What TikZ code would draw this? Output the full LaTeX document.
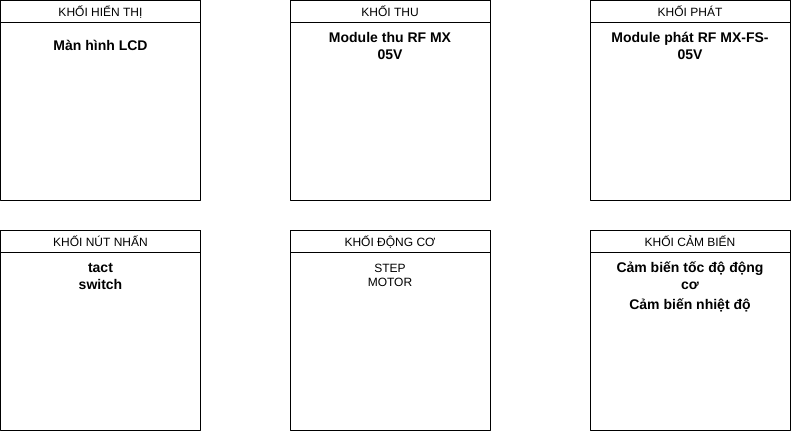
\documentclass[tikz,border=0pt]{standalone}
\usepackage{fontspec}
\setmainfont{Liberation Sans}
\begin{document}
\begin{tikzpicture}[x=1pt, y=-1pt, line width=0.9pt, line join=round,
		blockbox/.style={draw, rectangle, anchor=north west, minimum width=200pt, minimum height=200pt, inner sep=0pt, outer sep=0pt},
		blockhead/.style={draw, rectangle, anchor=north, minimum width=200pt, minimum height=22pt, inner sep=0pt, outer sep=0pt, text height=11pt, text depth=0.5pt, font=\fontsize{12}{13}\selectfont},
		blocktext/.style={align=center, inner sep=0pt, font=\bfseries\fontsize{14}{17}\selectfont},
		plaintext/.style={align=center, inner sep=0pt, font=\fontsize{12}{14.5}\selectfont}]
	\useasboundingbox (0,0) rectangle (791,431);
	% hang tren
	\node[blockbox] (hienthi) at (0.5,0.5) {};
	\node[blockhead] (hienthiHead) at (hienthi.north) {KHỐI HIỂN THỊ};
	\node[blocktext] (hienthiText) at (100.5,45) {Màn hình LCD};
	\node[blockbox] (thu) at (290,0.5) {};
	\node[blockhead] (thuHead) at (thu.north) {KHỐI THU};
	\node[blocktext] (thuText) at (390,45.5) {Module thu RF MX\\05V};
	\node[blockbox] (phat) at (590,0.5) {};
	\node[blockhead] (phatHead) at (phat.north) {KHỐI PHÁT};
	\node[blocktext] (phatText) at (690,45.5) {Module phát RF MX-FS-\\05V};
	% hang duoi
	\node[blockbox] (nutnhan) at (0.5,230) {};
	\node[blockhead] (nutnhanHead) at (nutnhan.north) {KHỐI NÚT NHẤN};
	\node[blocktext] (nutnhanText) at (100.5,276) {tact\\switch};
	\node[blockbox] (dongco) at (290,230) {};
	\node[blockhead] (dongcoHead) at (dongco.north) {KHỐI ĐỘNG CƠ};
	\node[plaintext] (dongcoText) at (390,275.5) {STEP\\MOTOR};
	\node[blockbox] (cambien) at (590,230) {};
	\node[blockhead] (cambienHead) at (cambien.north) {KHỐI CẢM BIẾN};
	\node[blocktext] (cambienText) at (690,286.5) {Cảm biến tốc độ động\\cơ\\[3pt]Cảm biến nhiệt độ};
\end{tikzpicture}
\end{document}
